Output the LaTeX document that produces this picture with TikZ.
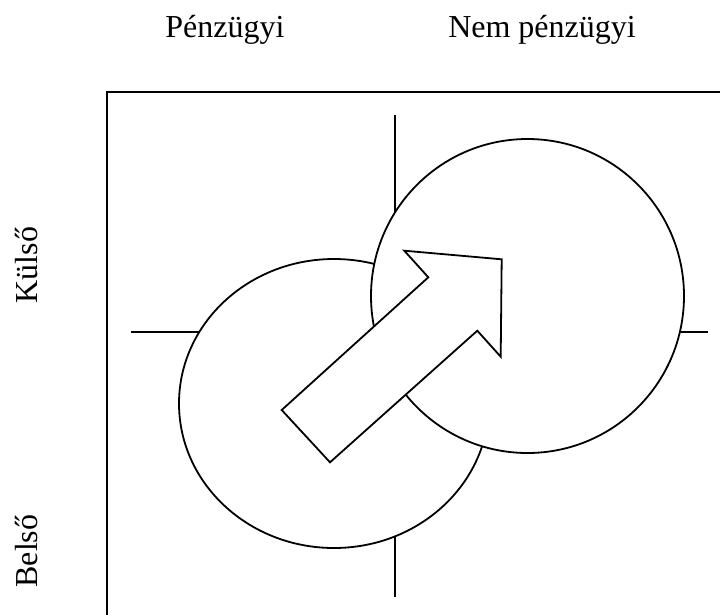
\documentclass[tikz,border=0pt]{standalone}
\usepackage{fontspec}
\setmainfont{Liberation Serif}
\usetikzlibrary{shapes.geometric}

\begin{document}
\begin{tikzpicture}[x=1pt,y=-1pt,line width=1.8pt,
		lbl/.style={font=\fontsize{32}{38}\selectfont,inner sep=0pt,anchor=base},
		disc/.style={draw,fill=white,inner sep=0pt}]
			\useasboundingbox (0,0) rectangle (720,614);
			\clip (0,0) rectangle (720,614);
			\node[lbl] (fin) at (225,37) {Pénzügyi};
			\node[lbl] (nonfin) at (542,37) {Nem pénzügyi};
			\node[lbl,rotate=90] (ext) at (37,265) {Külső};
			\node[lbl,rotate=90] (int) at (37,551) {Belső};
			\draw[line width=2.2pt] (107,92) rectangle (780,680);
			\draw (395,115) -- (395,597);
			\draw (131,332) -- (708,332);
			\node[disc,ellipse,minimum width=310pt,minimum height=289pt] (c1) at (334,403.5) {};
			\node[disc,ellipse,minimum width=313pt,minimum height=314pt] (c2) at (527.5,296) {};
			\draw[fill=white,line join=miter] (281.7,410) -- (428.3,277.3) -- (404.3,250.7) -- (501.7,259.3)
				-- (500.7,356.7) -- (477.3,330.7) -- (330,462.3) -- cycle;
		\end{tikzpicture}
\end{document}
